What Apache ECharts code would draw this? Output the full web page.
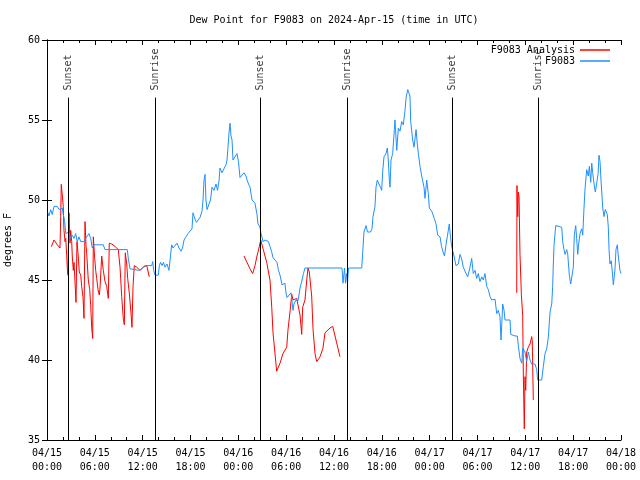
<!DOCTYPE html>
<html>
<head>
<meta charset="utf-8">
<script src="https://cdn.jsdelivr.net/npm/echarts@6/dist/echarts.min.js"></script>
<style>html,body{margin:0;padding:0;background:#fff}#c{width:640px;height:480px}</style>
</head>
<body>
<div id="c"></div>
<script>
// ---- data (hours since 2024-04-15 00:00 UTC, dew point in degrees F) ----
const titleText = 'Dew Point for F9083 on 2024-Apr-15 (time in UTC)';
const xTickLabels = ['04/15\n00:00','04/15\n06:00','04/15\n12:00','04/15\n18:00','04/16\n00:00','04/16\n06:00','04/16\n12:00','04/16\n18:00','04/17\n00:00','04/17\n06:00','04/17\n12:00','04/17\n18:00','04/18\n00:00'];

const sunHours = [2.67, 13.55, 26.78, 37.67, 50.84, 61.63];
const sunLabels = ['Sunset', 'Sunrise', 'Sunset', 'Sunrise', 'Sunset', 'Sunrise'];

const blueHours = [0.13,0.25,0.46,0.66,0.88,1.09,1.29,1.51,1.72,1.92,2.04,2.22,2.35,2.55,2.76,2.97,3.17,3.39,3.60,3.80,4.01,4.23,4.64,4.85,5.06,5.27,5.48,5.68,5.90,6.11,6.65,7.06,7.28,10.07,10.20,10.41,10.62,11.04,11.25,11.45,11.67,11.88,12.08,12.29,13.13,13.26,13.38,13.55,13.96,14.09,14.24,14.43,14.61,14.80,15.05,15.30,15.64,15.81,16.06,16.31,16.56,16.81,17.00,17.19,17.44,17.69,17.94,18.19,18.31,18.57,18.75,18.94,19.19,19.44,19.57,19.69,19.82,19.94,20.07,20.32,20.51,20.70,20.95,21.20,21.39,21.58,21.70,21.95,22.20,22.45,22.58,22.70,22.83,22.96,23.08,23.21,23.33,23.58,23.83,24.02,24.21,24.46,24.71,24.96,25.09,25.28,25.46,25.72,25.97,26.09,26.34,26.47,26.66,26.72,26.84,26.97,27.09,27.35,27.60,27.78,27.97,28.16,28.35,28.60,28.85,29.04,29.23,29.48,29.67,29.85,29.98,30.11,30.36,30.61,30.86,30.98,31.23,31.49,31.74,31.99,32.17,32.36,37.00,37.13,37.32,37.44,37.57,37.69,37.82,39.48,39.60,39.76,40.02,40.20,40.39,40.58,40.77,40.89,41.14,41.27,41.43,41.64,41.83,41.98,42.11,42.27,42.52,42.69,42.81,42.94,43.03,43.15,43.36,43.57,43.65,43.87,44.07,44.28,44.49,44.69,44.91,45.03,45.25,45.41,45.53,45.62,45.87,46.04,46.29,46.45,46.58,46.79,47.00,47.29,47.42,47.63,47.83,47.96,48.26,48.58,48.80,49.01,49.30,49.49,49.71,49.86,50.05,50.21,50.46,50.61,50.76,51.05,51.30,51.59,51.81,52.02,52.22,52.56,52.77,53.06,53.27,53.47,53.69,53.90,54.10,54.31,54.53,54.73,54.94,55.16,55.36,55.57,55.78,56.20,56.41,56.61,56.82,56.95,57.16,57.33,57.45,58.08,58.17,58.71,59.00,59.12,59.33,59.55,59.67,59.96,60.17,60.37,60.59,60.80,61.21,61.43,61.55,62.05,62.26,62.47,62.68,62.88,63.10,63.31,63.43,63.51,63.60,63.81,64.04,64.56,64.69,64.85,64.98,65.19,65.32,65.52,65.69,65.89,66.02,66.14,66.32,66.44,66.57,66.70,66.86,67.07,67.20,67.36,67.49,67.70,67.90,68.03,68.20,68.33,68.45,68.62,68.78,68.96,69.12,69.24,69.37,69.49,69.71,69.87,70.03,70.28,70.41,70.50,70.62,70.78,70.96,71.04,71.25,71.37,71.54,71.66,71.87,72.00];
const blueValues = [49.2,49.0,49.4,49.1,49.6,49.5,49.6,49.4,49.3,49.5,49.1,48.65,47.9,47.8,48.0,47.6,47.8,47.6,47.9,47.4,47.7,47.4,47.4,47.6,47.7,47.9,47.6,47.0,47.2,47.2,47.2,47.2,46.9,46.9,46.35,45.7,45.6,45.65,45.7,45.6,45.6,45.7,45.8,45.9,45.9,46.15,45.6,45.3,45.3,45.9,46.1,45.9,46.1,45.8,46.0,45.6,47.2,47.0,46.9,47.3,47.0,46.8,47.0,47.5,47.7,47.9,48.0,48.2,49.2,48.8,48.6,48.6,48.9,49.3,50.0,51.2,51.6,50.0,49.4,49.4,50.0,50.8,50.6,51.0,50.6,51.2,52.0,51.7,51.8,52.2,52.5,53.3,54.2,54.8,54.0,53.75,52.5,52.6,52.9,52.4,51.4,51.5,51.7,51.5,51.25,51.0,50.8,50.0,49.9,49.8,49.1,48.5,48.4,48.3,47.9,47.7,47.4,47.5,47.6,47.4,47.1,46.8,46.4,46.3,46.1,45.6,45.3,44.7,44.7,44.8,44.2,43.9,44.0,44.2,43.1,43.5,43.75,43.7,44.5,45.0,45.4,45.75,45.75,44.8,45.75,44.8,45.4,44.8,45.75,45.75,46.7,48.0,48.4,48.0,47.9,48.0,48.2,48.96,49.6,50.8,51.25,51.0,50.8,50.6,51.8,52.7,52.9,53.25,52.5,51.25,50.8,52.5,52.9,54.4,55.0,53.1,54.5,54.3,54.9,54.7,55.6,56.35,56.9,56.9,56.5,54.9,53.75,53.3,54.4,53.5,52.9,52.1,51.5,50.8,50.1,51.25,50.4,49.5,49.3,48.85,48.5,47.8,47.7,47.1,46.7,46.5,47.2,47.7,48.5,47.7,47.1,46.5,45.9,46.0,46.6,46.3,45.8,45.4,45.2,45.8,46.35,45.4,45.6,45.1,45.4,44.9,45.2,45.0,45.4,44.6,44.4,43.96,43.75,43.8,42.9,43.1,42.7,41.25,43.5,43.1,42.5,42.5,41.6,41.5,41.5,40.9,40.1,39.8,40.75,40.5,39.9,40.5,40.0,39.75,39.75,39.4,38.75,38.75,39.6,40.4,40.7,41.4,43.0,43.5,44.6,46.0,47.2,48.4,48.3,48.3,47.4,46.9,46.6,46.9,46.6,45.3,44.75,44.8,45.8,47.8,48.4,47.6,46.6,47.3,47.9,48.2,47.8,49.5,50.7,51.9,51.5,52.1,51.1,52.3,51.7,51.0,50.5,50.6,51.6,52.8,52.4,51.25,49.5,48.96,49.4,49.1,48.3,46.9,46.0,46.2,45.2,44.7,45.7,46.9,47.2,46.5,45.6,45.4];

// red analysis series: null marks a gap between segments
const redHours = [0.54,0.88,1.29,1.63,1.72,1.79,1.92,2.04,2.13,2.26,2.35,2.47,2.55,2.63,2.76,2.89,2.97,3.10,3.17,3.30,3.39,3.51,3.64,3.76,3.89,4.05,4.23,4.35,4.52,4.64,4.77,4.89,4.98,5.06,5.18,5.36,5.48,5.61,5.73,5.81,5.98,6.11,6.23,6.40,6.56,6.65,6.86,7.06,7.28,7.49,7.69,7.81,8.12,8.53,8.74,8.94,9.16,9.24,9.37,9.57,9.70,9.82,10.00,10.12,10.32,10.54,10.66,10.79,10.95,11.25,11.45,11.67,11.88,12.08,12.29,12.51,12.71,12.83,
  18.0,
  24.71,25.09,25.46,25.80,26.09,26.34,26.59,26.81,27.13,27.56,27.97,28.19,28.35,28.81,29.23,29.60,30.07,30.23,30.48,30.70,30.86,31.32,31.49,31.74,31.95,32.07,32.36,32.58,32.74,32.90,33.20,33.37,33.62,33.83,34.25,34.62,34.87,35.50,35.84,36.34,36.75,
  48.0,
  58.92,58.95,59.05,59.12,59.21,59.33,59.50,59.67,59.75,59.87,59.96,60.05,60.17,60.37,60.59,60.80,60.87,61.00];
const redValues = [47.08,47.5,47.2,47.0,48.96,50.98,50.3,49.6,48.1,47.4,47.6,46.56,45.7,45.3,49.2,47.3,48.1,47.4,46.5,45.6,46.1,44.9,43.6,47.4,46.7,45.5,45.3,44.6,43.9,42.6,48.65,47.2,46.7,46.0,45.0,44.4,43.4,42.0,41.35,47.7,46.35,45.6,45.1,44.4,44.06,44.5,46.5,45.6,44.9,44.6,43.85,47.3,47.25,47.1,47.0,46.9,45.8,45.1,43.96,42.6,42.2,46.7,46.0,45.1,44.2,42.9,42.04,44.6,45.9,45.8,45.7,45.6,45.7,45.8,45.8,45.9,45.8,45.2,
  null,
  46.5,46.1,45.7,45.4,45.9,46.5,47.0,47.5,46.9,46.1,45.0,43.3,41.7,39.3,39.8,40.4,40.8,41.9,43.0,44.1,43.75,43.85,43.96,42.8,41.6,43.3,43.75,45.0,45.75,45.5,44.0,41.9,40.4,39.9,40.2,40.75,41.7,42.0,42.1,41.06,40.2,
  null,
  44.2,50.9,48.96,50.5,50.2,46.6,44.1,42.8,39.06,35.7,38.96,38.1,40.5,40.8,41.0,41.46,41.2,37.5];

// ---- chart ----
const FONT = 'DejaVu Sans Mono';
const blueData = blueHours.map((h, i) => [h, blueValues[i]]);
const redData = redHours.map((h, i) => [h, redValues[i] === null ? '-' : redValues[i]]);
const sunTop = 56.4;
const sunData = sunHours.map((h, i) => ({ value: [h, sunTop], label: { formatter: sunLabels[i] } }));
const sunLines = sunHours.map(h => [{ coord: [h, 35] }, { coord: [h, sunTop] }]);

const chart = echarts.init(document.getElementById('c'), null, { renderer: 'canvas' });
const xBase = {
  type: 'value', min: 0, max: 72, interval: 6,
  axisLine: { show: true, lineStyle: { color: '#000', width: 1 } },
  axisTick: { show: true, inside: true, length: 5, lineStyle: { color: '#000' } },
  minorTick: { show: true, splitNumber: 3, length: 3, lineStyle: { color: '#000' } },
  splitLine: { show: false }
};
const yBase = {
  type: 'value', min: 35, max: 60, interval: 5,
  axisLine: { show: true, lineStyle: { color: '#000', width: 1 } },
  axisTick: { show: true, inside: true, length: 5, lineStyle: { color: '#000' } },
  splitLine: { show: false }
};
chart.setOption({
  animation: false,
  backgroundColor: '#fff',
  textStyle: { fontFamily: FONT },
  grid: { left: 47, right: 19, top: 40, bottom: 40, containLabel: false, outerBoundsMode: 'none' },
  graphic: [{
    type: 'text', x: 334, y: 20,
    style: { text: titleText, font: '10px "' + FONT + '"', fill: '#000', textAlign: 'center', textVerticalAlign: 'middle' }
  }],
  legend: [
    { data: ['F9083 Analysis'], right: 30, top: 45, padding: 0, align: 'right', orient: 'vertical',
      icon: 'rect', itemWidth: 30, itemHeight: 1.5, itemGap: 0,
      textStyle: { fontFamily: FONT, fontSize: 10, color: '#000' } },
    { data: ['F9083'], right: 30, top: 56, padding: 0, align: 'right', orient: 'vertical',
      icon: 'rect', itemWidth: 30, itemHeight: 1.5, itemGap: 0,
      textStyle: { fontFamily: FONT, fontSize: 10, color: '#000' } }
  ],
  xAxis: [
    Object.assign({}, xBase, { position: 'bottom',
      axisLabel: { show: true, color: '#000', fontFamily: FONT, fontSize: 10, lineHeight: 14, margin: 6,
        formatter: v => xTickLabels[Math.round(v / 6)] || '' } }),
    Object.assign({}, xBase, { position: 'top', axisLabel: { show: false } })
  ],
  yAxis: [
    Object.assign({}, yBase, { position: 'left', name: 'degrees F', nameLocation: 'middle', nameGap: 34,
      nameRotate: 90, nameTextStyle: { color: '#000', fontFamily: FONT, fontSize: 10 },
      axisLabel: { show: true, color: '#000', fontFamily: FONT, fontSize: 10, margin: 7 } }),
    Object.assign({}, yBase, { position: 'right', axisLabel: { show: false } })
  ],
  series: [
    {
      name: 'sun', type: 'scatter', data: sunData, symbolSize: 0, silent: true,
      label: { show: true, position: 'top', distance: 7, rotate: 90, align: 'left', verticalAlign: 'middle',
        color: '#000', fontFamily: FONT, fontSize: 10 },
      markLine: { silent: true, symbol: ['none', 'none'], label: { show: false },
        lineStyle: { color: '#000', width: 1, type: 'solid' }, data: sunLines }
    },
    {
      name: 'F9083 Analysis', type: 'line', data: redData, showSymbol: false, symbol: 'none',
      connectNulls: false, lineStyle: { color: '#ff0000', width: 1 }, itemStyle: { color: '#ff0000' }
    },
    {
      name: 'F9083', type: 'line', data: blueData, showSymbol: false, symbol: 'none',
      lineStyle: { color: '#1e90ff', width: 1 }, itemStyle: { color: '#1e90ff' }
    }
  ]
});
</script>
</body>
</html>
